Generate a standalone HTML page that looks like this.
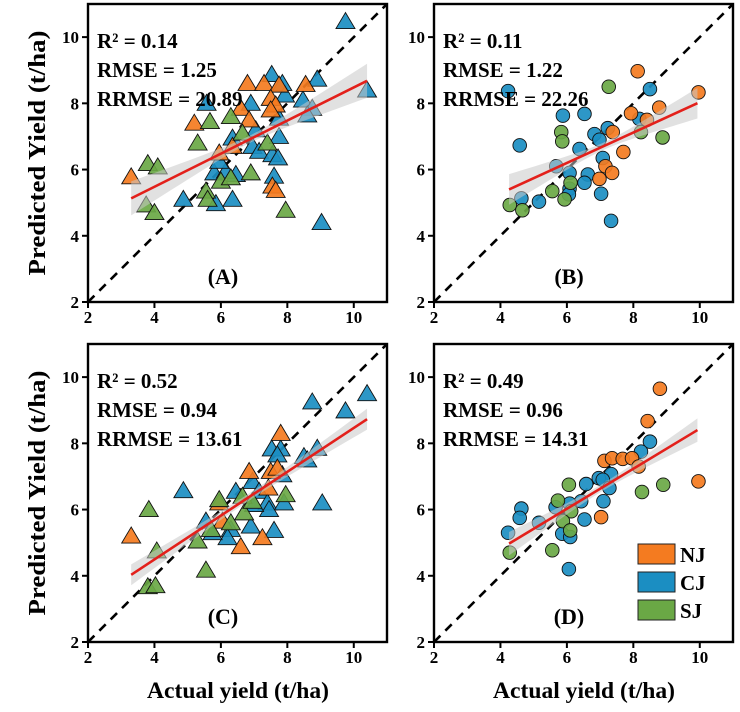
<!DOCTYPE html>
<html><head><meta charset="utf-8">
<style>
html,body{margin:0;padding:0;background:#fff;}
svg text{font-family:"Liberation Serif",serif;font-weight:bold;fill:#000;}
</style></head>
<body>
<svg id="fig" width="740" height="707" viewBox="0 0 740 707" xmlns="http://www.w3.org/2000/svg"></svg>
<script>
const ticks=[2,4,6,8,10];
// Panel A (triangles)
const aBlueX=[9.75,7.53,8.90,7.85,7.93,10.40,6.90,5.57,8.47,8.75,8.60,7.75,7.05,7.75,6.95,7.15,7.55,7.72,6.35,6.45,5.80,6.15,7.60,4.87,5.85,6.35,9.03,5.95];
const aBlueY=[10.47,8.87,8.73,8.60,8.25,8.40,8.00,8.00,8.10,7.85,7.65,7.55,7.20,7.00,6.70,6.55,6.45,6.35,6.95,5.85,5.90,5.95,5.80,5.10,4.97,5.10,4.40,6.25];
const aOrangeX=[6.80,7.30,7.75,8.55,7.50,7.65,6.60,7.50,6.85,5.20,6.35,5.95,3.30,7.55,7.65];
const aOrangeY=[8.60,8.60,8.55,8.57,8.15,7.95,7.85,7.80,7.50,7.40,6.70,6.50,5.78,5.50,5.37];
const aGreenX=[6.30,5.67,5.30,6.65,7.40,3.80,4.10,6.90,6.00,6.30,5.55,5.60,3.75,4.00,7.95];
const aGreenY=[7.60,7.45,6.80,7.10,6.80,6.18,6.08,5.90,5.65,5.75,5.35,5.10,4.93,4.70,4.77];
const aFit=[3.30,10.40,0.50,3.48];
const aStats=["R² =  0.14","RMSE = 1.25","RRMSE = 20.89"];
// Panel B (circles)
const bBlueX=[4.23,4.58,5.88,6.53,8.50,7.23,6.83,6.98,6.38,5.68,7.08,6.08,6.63,6.53,6.08,6.06,7.03,5.16,4.63,7.33,8.18];
const bBlueY=[8.37,6.73,7.63,7.68,8.43,7.25,7.07,6.90,6.62,6.10,6.35,5.90,5.85,5.60,5.42,5.25,5.27,5.03,5.13,4.45,7.53];
const bOrangeX=[8.13,9.96,8.78,7.93,8.41,7.38,7.70,7.16,7.36,6.98];
const bOrangeY=[8.97,8.33,7.87,7.70,7.50,7.13,6.53,6.10,5.90,5.72];
const bGreenX=[7.26,5.83,5.86,8.23,8.88,6.11,5.56,5.93,4.28,4.66];
const bGreenY=[8.50,7.13,6.85,7.13,6.97,5.60,5.35,5.10,4.93,4.77];
const bFit=[4.26,9.93,0.459,3.445];
const bStats=["R² =  0.11","RMSE = 1.22","RRMSE = 22.26"];
// Panel C (triangles)
const cBlueX=[8.75,10.40,9.75,4.87,7.53,7.80,7.70,8.50,8.90,8.60,6.45,6.95,7.15,7.40,7.90,7.45,7.00,5.55,6.30,6.20,6.90,7.60,9.05,7.85,5.75];
const cBlueY=[9.25,9.50,8.98,6.57,7.83,7.83,7.65,7.60,7.85,7.50,6.55,6.85,6.55,6.20,6.20,6.00,6.15,5.65,5.40,5.15,5.50,5.37,6.20,7.05,5.30];
const cOrangeX=[7.80,6.85,7.50,7.70,7.43,5.95,6.05,3.30,6.60,7.25];
const cOrangeY=[8.30,7.15,7.15,7.25,6.65,6.20,5.65,5.20,4.88,5.15];
const cGreenX=[3.83,5.95,6.65,7.95,6.70,6.30,5.70,5.30,4.07,5.55,3.80,4.03,6.95];
const cGreenY=[6.00,6.30,6.40,6.45,5.90,5.60,5.40,5.05,4.75,4.17,3.67,3.70,6.25];
const cFit=[3.30,10.40,0.662,1.845];
const cStats=["R² =  0.52","RMSE = 0.94","RRMSE = 13.61"];
// Panel D (circles)
const dBlueX=[8.50,8.23,7.33,6.96,7.08,7.28,6.58,6.43,6.08,5.66,7.10,4.63,4.58,5.16,4.23,5.86,6.10,6.53,6.06];
const dBlueY=[8.05,7.75,7.07,6.95,6.90,6.65,6.77,6.25,6.18,6.07,6.25,6.03,5.75,5.60,5.30,5.27,5.17,5.70,4.20];
const dOrangeX=[8.80,8.43,7.13,7.36,7.68,7.96,8.16,9.96,7.03];
const dOrangeY=[9.65,8.67,7.47,7.55,7.53,7.55,7.30,6.85,5.77];
const dGreenX=[6.06,8.26,8.90,5.73,6.13,5.88,6.10,5.56,4.28];
const dGreenY=[6.75,6.53,6.75,6.27,5.95,5.65,5.37,4.77,4.70];
const dFit=[4.26,9.93,0.605,2.393];
const dStats=["R² = 0.49","RMSE = 0.96","RRMSE = 14.31"];

const NS="http://www.w3.org/2000/svg";
const svg=document.getElementById('fig');
const COL={orange:"#f47b20",blue:"#1b8ec2",green:"#6aa845"};
function mk(tag,attrs,parent){const e=document.createElementNS(NS,tag);for(const k in attrs)e.setAttribute(k,attrs[k]);(parent||svg).appendChild(e);return e;}

function panel(id,L,T,shape,series,fit,bandK,stats,label,showXTitle,showYTitle){
  const W=299,H=298,lo=2,hi=11;
  const sx=v=>L+(v-lo)/(hi-lo)*W;
  const sy=v=>T+H-(v-lo)/(hi-lo)*H;
  const g=mk('g',{});
  
  
  const dl=mk('line',{x1:sx(2),y1:sy(2),x2:sx(11),y2:sy(11),stroke:"#000","stroke-width":2.6,"stroke-dasharray":"9,7"},g);
  
  
  series.forEach(s=>{
    for(let i=0;i<s.x.length;i++){
      const cx=sx(s.x[i]),cy=sy(s.y[i]);let m;
      if(shape==='tri'){
        m=mk('polygon',{points:`${cx},${cy-9} ${cx-9.5},${cy+7} ${cx+9.5},${cy+7}`,fill:COL[s.c],stroke:"#111","stroke-width":0.9,"fill-opacity":0.92},g);
      }else{
        m=mk('circle',{cx:cx,cy:cy,r:6.8,fill:COL[s.c],stroke:"#111","stroke-width":0.9,"fill-opacity":0.92},g);
      }
      
      
    }
  });
  const x0=fit[0],x1=fit[1],b=fit[2],a=fit[3],xm=(x0+x1)/2;
  let up=[],dn=[];
  for(let k=0;k<=30;k++){const x=x0+(x1-x0)*k/30;const hw=Math.sqrt(0.012+bandK*(x-xm)*(x-xm));const y=a+b*x;up.push(sx(x)+','+sy(y+hw));dn.unshift(sx(x)+','+sy(y-hw));}
  const band=mk('polygon',{points:up.concat(dn).join(' '),fill:"#c8c8c8","fill-opacity":0.55},g);
  
  
  const fl=mk('line',{x1:sx(x0),y1:sy(a+b*x0),x2:sx(x1),y2:sy(a+b*x1),stroke:"#e3201b","stroke-width":2.6},g);
  
  
  const fr=mk('rect',{x:L,y:T,width:W,height:H,fill:"none",stroke:"#000","stroke-width":2.4},g);
  
  
  ticks.forEach(t=>{
    mk('line',{x1:sx(t),y1:T+H,x2:sx(t),y2:T+H+6,stroke:"#000","stroke-width":2},g);
    const xt=mk('text',{x:sx(t),y:T+H+21,"text-anchor":"middle","font-size":17},g);xt.textContent=t;
    
    
    mk('line',{x1:L-6,y1:sy(t),x2:L,y2:sy(t),stroke:"#000","stroke-width":2},g);
    const yt=mk('text',{x:L-9,y:sy(t)+6,"text-anchor":"end","font-size":17},g);yt.textContent=t;
    
    
  });
  stats.forEach((s,i)=>{const t=mk('text',{x:L+9,y:T+44+i*29,"font-size":21},g);t.textContent=s;
    
    });
  const pl=mk('text',{x:L+135,y:T+280,"text-anchor":"middle","font-size":22},g);pl.textContent=label;
  
  
  if(showXTitle){const t=mk('text',{x:L+150,y:T+H+56,"text-anchor":"middle","font-size":23,textLength:182,lengthAdjust:"spacingAndGlyphs"},g);t.textContent="Actual yield (t/ha)";
    
    }
  if(showYTitle){const cy=T+H/2;const t=mk('text',{x:45,y:cy,"text-anchor":"middle","font-size":24,textLength:245,lengthAdjust:"spacingAndGlyphs",transform:`rotate(-90 45 ${cy})`},g);t.textContent="Predicted Yield (t/ha)";
    
    }
}
panel('a',88,4,'tri',[{x:aBlueX,y:aBlueY,c:'blue',n:'cj'},{x:aOrangeX,y:aOrangeY,c:'orange',n:'nj'},{x:aGreenX,y:aGreenY,c:'green',n:'sj'}],aFit,0.02,aStats,'(A)',false,true);
panel('b',434,4,'circ',[{x:bBlueX,y:bBlueY,c:'blue',n:'cj'},{x:bOrangeX,y:bOrangeY,c:'orange',n:'nj'},{x:bGreenX,y:bGreenY,c:'green',n:'sj'}],bFit,0.025,bStats,'(B)',false,false);
panel('c',88,344,'tri',[{x:cBlueX,y:cBlueY,c:'blue',n:'cj'},{x:cOrangeX,y:cOrangeY,c:'orange',n:'nj'},{x:cGreenX,y:cGreenY,c:'green',n:'sj'}],cFit,0.007,cStats,'(C)',true,true);
panel('d',434,344,'circ',[{x:dBlueX,y:dBlueY,c:'blue',n:'cj'},{x:dOrangeX,y:dOrangeY,c:'orange',n:'nj'},{x:dGreenX,y:dGreenY,c:'green',n:'sj'}],dFit,0.014,dStats,'(D)',true,false);
const legNames=["NJ","CJ","SJ"];
const legCols=["orange","blue","green"];
legNames.forEach((n,i)=>{
  const y=544+i*28;
  const r=mk('rect',{x:638,y:y,width:37,height:20,fill:COL[legCols[i]],stroke:"#222","stroke-width":1});
  
  
  const t=mk('text',{x:680,y:y+18,"font-size":21});t.textContent=n;
  
  
});
</script>
</body></html>
